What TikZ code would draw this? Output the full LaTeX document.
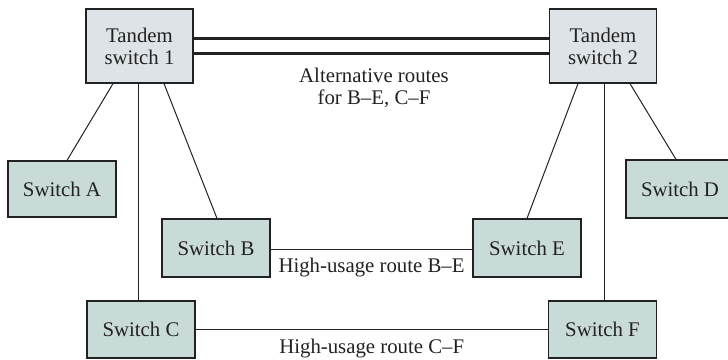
\documentclass[tikz,border=0pt]{standalone}
\usepackage{fontspec}
\setmainfont{Liberation Serif}
\usetikzlibrary{calc,positioning}
\definecolor{tandemfill}{HTML}{DDE3E6}
\definecolor{switchfill}{HTML}{C9DBD8}
\definecolor{edgecol}{HTML}{222222}
\begin{document}
\begin{tikzpicture}[x=0.5pt,y=-0.5pt,
  every node/.style={font=\fontsize{10.4}{11}\selectfont, text=edgecol},
  tandem/.style={draw=edgecol, line width=0.6pt, fill=tandemfill, minimum width=53.5pt, minimum height=37pt, align=center, inner sep=0pt},
  switchbox/.style={draw=edgecol, line width=0.6pt, fill=switchfill, minimum width=54pt, minimum height=29pt, inner sep=0pt},
  link/.style={draw=edgecol, line width=0.5pt},
  trunk/.style={draw=edgecol, line width=1.5pt},
  lbl/.style={inner sep=0pt, align=center}]
\useasboundingbox (0,0) rectangle (728,359);
\node[tandem] (t1) at (139.5,46) {Tandem\\switch 1};
\node[tandem] (t2) at (603,46) {Tandem\\switch 2};
\node[switchbox, minimum height=28pt] (a) at (62,189) {Switch A};
\node[switchbox] (b) at (216,248) {Switch B};
\node[switchbox] (e) at (527,248) {Switch E};
\node[switchbox, minimum height=28.5pt] (c) at (141,329.5) {Switch C};
\node[switchbox, minimum height=28.5pt] (f) at (602.5,329.5) {Switch F};
\node[switchbox] (d) at (680,189) {Switch D};
% trunks
\draw[trunk] ([yshift=3.75pt]t1.east) -- ([yshift=3.75pt]t2.west);
\draw[trunk] ([yshift=-3.75pt]t1.east) -- ([yshift=-3.75pt]t2.west);
\node[lbl] (alt) at (374,88) {Alternative routes\\for B--E, C--F};
% tandem 1 links
\draw[link] ([xshift=-13.25pt]t1.south) -- ([xshift=2.5pt]a.north);
\draw[link] ([xshift=-0.5pt]t1.south) -- ([xshift=-0.5pt]t1.south |- c.north);
\draw[link] ([xshift=12.25pt]t1.south) -- ([xshift=0.5pt]b.north);
% tandem 2 links
\draw[link] ([xshift=-12.5pt]t2.south) -- (e.north);
\draw[link] ([xshift=0.5pt]t2.south) -- ([xshift=0.5pt]t2.south |- f.north);
\draw[link] ([xshift=13.5pt]t2.south) -- ([xshift=-2pt]d.north);
% high-usage routes
\draw[link] ([yshift=-0.5pt]b.east) -- node[below=4.5pt, lbl] (lbe) {High-usage route B--E} ([yshift=-0.5pt]e.west);
\draw[link] (c.east) -- node[below=4.5pt, lbl] (lcf) {High-usage route C--F} (f.west);
\end{tikzpicture}
\end{document}
